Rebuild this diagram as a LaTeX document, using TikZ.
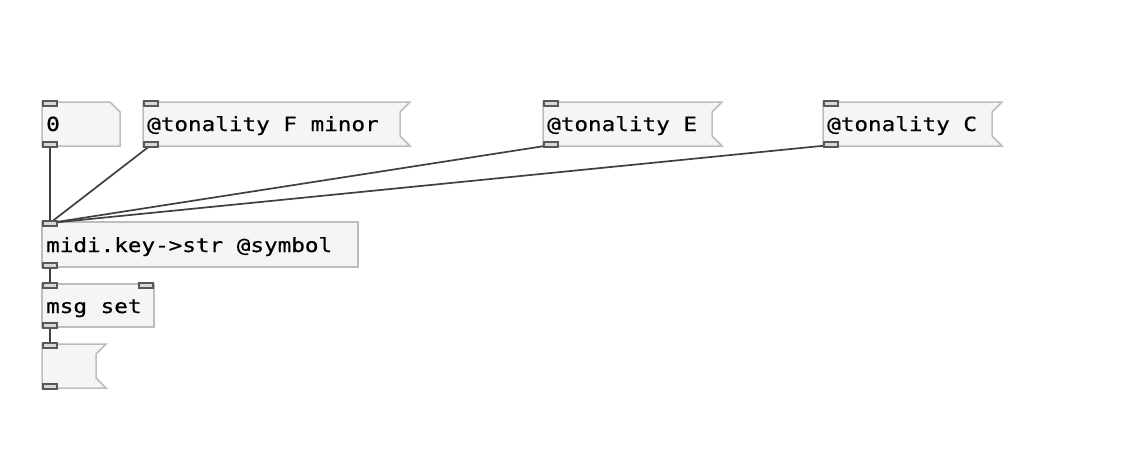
\documentclass[tikz,border=0pt]{standalone}
\usepackage{fontspec}
\newfontfamily\pdfont[FakeStretch=1.16,FakeBold=0.6]{DejaVu Sans Mono}
\definecolor{boxfill}{HTML}{F4F5F7}
\definecolor{boxline}{HTML}{BDBDBD}
\definecolor{ioline}{HTML}{585858}
\definecolor{iofill}{HTML}{D8D8D8}
\definecolor{wire}{HTML}{404040}
\tikzset{
  pdbox/.style={draw=boxline, fill=boxfill, line width=1.5pt, line join=miter},
  pdio/.style={draw=ioline, fill=iofill, line width=1.3pt},
  pdtext/.style={anchor=base west, inner sep=0pt, font=\pdfont\fontsize{19.5}{20}\selectfont, text=black},
  pdwire/.style={draw=wire, line width=1.7pt}
}
% message box: name, x1, y1, x2, y2
\newcommand\pdmsgbox[5]{%
  \path[pdbox] (#2,#3) -- (#4,#3) -- ({#4-10},{#3+10}) -- ({#4-10},{#5-10}) -- (#4,#5) -- (#2,#5) -- cycle;
  \coordinate (#1-in) at ({#2+8},{#3+1});
  \coordinate (#1-out) at ({#2+8},{#5-1});
}
\newcommand\pdinlet[2]{\path[pdio] ({#1},{#2}) rectangle ({#1+14},{#2+5});}
\begin{document}
\begin{tikzpicture}[x=1pt,y=-1pt]
\useasboundingbox[fill=white] (0,0) rectangle (1136,448);

% number box
\path[pdbox] (42,102) -- (110,102) -- (120,112) -- (120,146) -- (42,146) -- cycle;
\coordinate (num-out) at (50,145);
\node[pdtext] (numtxt) at (46,131) {0};

% message boxes
\pdmsgbox{msgF}{143}{102}{410}{146}
\node[pdtext] (msgFtxt) at (147,131) {@tonality F minor};
\pdmsgbox{msgE}{543}{102}{722}{146}
\node[pdtext] (msgEtxt) at (547,131) {@tonality E};
\pdmsgbox{msgC}{823}{102}{1002}{146}
\node[pdtext] (msgCtxt) at (827,131) {@tonality C};

% object midi.key->str
\path[pdbox] (42,222) rectangle (358,267);
\coordinate (midi-in) at (50,223);
\coordinate (midi-out) at (50,266);
\node[pdtext] (miditxt) at (46,252) {midi.key->str @symbol};

% msg set
\path[pdbox] (42,284) rectangle (154,327);
\coordinate (set-in) at (50,285);
\coordinate (set-out) at (50,326);
\node[pdtext] (settxt) at (46,313) {msg set};

% empty message box
\pdmsgbox{empty}{42}{344}{106}{388}

% connections
\draw[pdwire] (num-out) -- (midi-in);
\draw[pdwire] (msgF-out) -- (midi-in);
\draw[pdwire] (msgE-out) -- (midi-in);
\draw[pdwire] (msgC-out) -- (midi-in);
\draw[pdwire] (midi-out) -- (set-in);
\draw[pdwire] (set-out) -- (empty-in);

% inlets / outlets
\pdinlet{43}{101}\pdinlet{43}{142}
\pdinlet{144}{101}\pdinlet{144}{142}
\pdinlet{544}{101}\pdinlet{544}{142}
\pdinlet{824}{101}\pdinlet{824}{142}
\pdinlet{43}{221}\pdinlet{43}{263}
\pdinlet{43}{283}\pdinlet{139}{283}\pdinlet{43}{323}
\pdinlet{43}{343}\pdinlet{43}{384}
\end{tikzpicture}
\end{document}
